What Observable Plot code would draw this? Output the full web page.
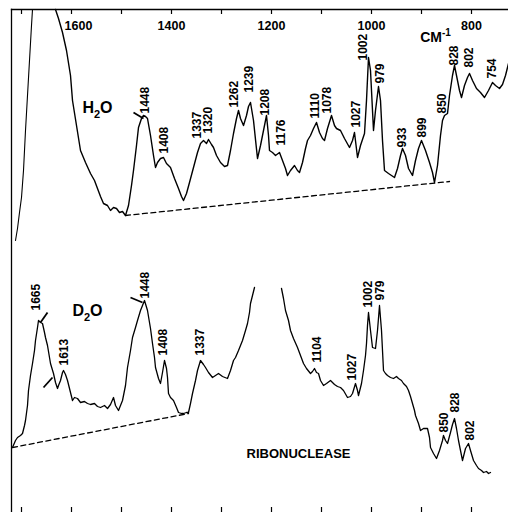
<!DOCTYPE html>
<html>
<head>
<meta charset="utf-8">
<script src="https://cdn.jsdelivr.net/npm/d3@7"></script>
<script src="https://cdn.jsdelivr.net/npm/@observablehq/plot@0.6"></script>
<style>
  html, body { margin: 0; padding: 0; background: #fff; }
  #chart svg { display: block; }
</style>
</head>
<body>
<div id="chart"></div>
<script>
// Raman spectra of ribonuclease: wavenumber (cm-1), intensity (arbitrary units)
const h2oWing = [[1712,272],[1708,284],[1704,300],[1700,315],[1696,342],[1692,382],[1688,417],[1684,452],[1680,487],[1678,503]];

const h2oSpectrum = [[1632,503],[1626,494],[1618,480],[1610,462],[1602,437],[1598,412],[1590,387],[1582,362],[1572,350],[1562,339],[1554,332],[1548,324],[1542,316],[1536,309],[1528,307],[1522,302],[1516,305],[1510,304],[1504,300],[1498,301],[1492,297],[1486,307],[1480,327],[1476,342],[1470,367],[1466,385],[1460,394],[1456,397],[1452,396],[1448,394],[1442,377],[1436,357],[1432,345],[1428,350],[1422,354],[1416,355],[1410,349],[1402,345],[1394,334],[1386,324],[1380,316],[1376,312],[1370,319],[1364,330],[1356,345],[1348,360],[1342,369],[1336,372],[1330,369],[1326,373],[1320,368],[1316,365],[1310,357],[1302,350],[1294,346],[1288,347],[1282,362],[1276,379],[1270,394],[1266,402],[1262,394],[1256,387],[1250,397],[1246,406],[1242,410],[1236,392],[1228,354],[1222,367],[1216,382],[1210,397],[1206,377],[1204,362],[1198,360],[1192,357],[1184,360],[1178,352],[1172,344],[1168,337],[1162,342],[1154,347],[1148,342],[1144,340],[1138,350],[1132,364],[1128,372],[1122,377],[1116,384],[1110,390],[1104,380],[1098,374],[1094,372],[1088,384],[1080,397],[1074,387],[1070,384],[1062,382],[1054,374],[1044,365],[1038,372],[1034,380],[1028,355],[1022,367],[1014,379],[1010,412],[1006,455],[1002,442],[998,402],[996,382],[992,402],[986,426],[982,412],[978,372],[974,342],[966,339],[960,337],[954,335],[948,344],[942,357],[938,364],[932,357],[926,344],[918,337],[912,352],[906,364],[900,372],[892,362],[884,350],[878,340],[874,330],[868,347],[862,377],[858,392],[854,397],[848,399],[844,417],[838,437],[834,447],[830,437],[824,422],[820,415],[814,427],[808,435],[804,439],[798,432],[790,424],[782,420],[774,415],[766,422],[758,430],[752,427],[744,424],[738,428],[732,437],[726,449]];

const d2oLeft = [[1718,65],[1712,72],[1708,75],[1702,77],[1698,79],[1694,87],[1692,92],[1688,107],[1686,122],[1682,137],[1678,149],[1674,162],[1672,172],[1668,185],[1666,192],[1662,190],[1658,189],[1654,180],[1652,175],[1648,167],[1642,149],[1636,139],[1632,130],[1628,124],[1626,127],[1622,132],[1618,140],[1616,142],[1612,138],[1608,132],[1602,120],[1598,112],[1594,115],[1588,114],[1582,110],[1574,111],[1568,109],[1562,108],[1554,109],[1548,106],[1542,105],[1534,107],[1528,104],[1522,108],[1516,115],[1512,107],[1506,102],[1502,107],[1498,112],[1492,127],[1488,145],[1482,162],[1478,175],[1472,185],[1468,192],[1462,202],[1458,207],[1454,212],[1448,202],[1442,184],[1438,169],[1434,155],[1432,145],[1426,134],[1422,129],[1418,140],[1414,152],[1410,144],[1408,135],[1406,119],[1402,115],[1396,112],[1390,105],[1386,100],[1380,99],[1376,99],[1370,100],[1366,100],[1362,109],[1358,119],[1352,132],[1348,142],[1342,152],[1336,148],[1332,145],[1326,140],[1318,135],[1312,137],[1306,139],[1298,136],[1288,134],[1282,142],[1276,152],[1272,155],[1266,162],[1258,172],[1252,182],[1248,189],[1244,200],[1242,209],[1238,217],[1234,225]];

const d2oRight = [[1180,224],[1176,214],[1172,202],[1166,192],[1162,182],[1156,174],[1148,165],[1142,157],[1136,149],[1130,144],[1122,139],[1118,141],[1114,144],[1110,140],[1106,139],[1102,132],[1096,127],[1090,129],[1082,132],[1074,128],[1068,126],[1062,125],[1056,122],[1048,115],[1042,116],[1038,119],[1032,129],[1028,122],[1026,117],[1020,129],[1016,142],[1012,157],[1010,169],[1008,187],[1006,200],[1002,182],[998,165],[992,164],[988,182],[984,207],[980,182],[976,142],[972,139],[968,137],[962,135],[956,134],[950,136],[946,134],[940,132],[936,129],[930,126],[926,122],[922,116],[918,109],[914,102],[912,97],[906,89],[902,82],[896,84],[888,84],[884,75],[882,65],[876,59],[870,54],[864,62],[858,72],[856,77],[852,72],[848,69],[842,80],[838,88],[834,94],[830,84],[826,72],[822,62],[818,52],[812,64],[806,69],[802,62],[796,52],[790,47],[786,44],[780,42],[776,40],[770,41],[766,39],[762,40]];

const h2oBaseline = [[1492,297],[844,331]];
const d2oBaseline = [[1718,65],[1366,99]];

// peak labels: [text, wavenumber, intensity at label foot]
const h2oPeakLabels = [["1448",1452,399],["1408",1414,359],["1337",1348,374],["1320",1326,379],["1262",1274,405],["1239",1244,420],["1208",1212,397],["1176",1180,367],["1110",1112,394],["1078",1088,399],["1027",1030,385],["1002",1016,452],["979",982,429],["933",938,365],["899",898,375],["850",858,399],["828",834,447],["802",804,445],["754",758,434]];
const d2oPeakLabels = [["1665",1670,202],["1613",1614,147],["1448",1452,214],["1408",1416,157],["1337",1342,157],["1104",1108,150],["1027",1038,132],["1002",1006,205],["979",982,212],["850",854,80],["828",832,100],["802",802,72]];

// hand-drawn pointer strokes: [wn1, I1, wn2, I2]
const pointerStrokes = [[1476,400,1456,394],[1482,215,1458,210],[1648,200,1662,190],[1656,125,1638,135]];

const axisTicks = [1700,1600,1500,1400,1300,1200,1100,1000,900,800];
const axisLabels = [1400,1200,1000,800];
const axisLabelShifted = [1600];

// [main text, sub/superscript, trailing text, wavenumber, intensity]
const sampleLabels = [["H","2","O",1548,405],["D","2","O",1568,202]];
const unitLabel = [["CM","-1","",872,475]];
const titleLabel = [["RIBONUCLEASE",1146,59]];

const W = 508, H = 512, mTop = 9, mLeft = 11;
const pairs = a => a.map(([wn, I]) => ({wn, I}));
const font = "'Liberation Sans', Arial, Helvetica, sans-serif";

const chart = Plot.plot({
  width: W,
  height: H,
  marginTop: mTop,
  marginLeft: mLeft,
  marginRight: 0,
  marginBottom: 0,
  x: {domain: [1720, 726], axis: null},
  y: {domain: [0, 503], axis: null},
  style: {fontFamily: font, background: "#fff", color: "#000"},
  marks: [
    Plot.frame({anchor: "top", stroke: "#000", strokeWidth: 1.3}),
    Plot.frame({anchor: "left", stroke: "#000", strokeWidth: 1.3}),
    Plot.tickX(axisTicks, {x: d => d, insetBottom: H - mTop - 5, stroke: "#000", strokeWidth: 1.2}),
    Plot.tickX(axisTicks, {x: d => d, insetTop: H - mTop - 5, stroke: "#000", strokeWidth: 1.2}),
    Plot.text(axisLabels, {x: d => d, text: d => String(d), frameAnchor: "top", dy: 12, fontSize: 12.5, fontWeight: "bold"}),
    Plot.text(axisLabelShifted, {x: d => d, text: d => String(d), frameAnchor: "top", dy: 12, dx: 7, fontSize: 12.5, fontWeight: "bold"}),
    Plot.line(pairs(h2oWing), {x: "wn", y: "I", stroke: "#000", strokeWidth: 1.1}),
    Plot.line(pairs(h2oSpectrum), {x: "wn", y: "I", stroke: "#000", strokeWidth: 1.4, strokeLinejoin: "round"}),
    Plot.line(pairs(d2oLeft), {x: "wn", y: "I", stroke: "#000", strokeWidth: 1.3, strokeLinejoin: "round"}),
    Plot.line(pairs(d2oRight), {x: "wn", y: "I", stroke: "#000", strokeWidth: 1.3, strokeLinejoin: "round"}),
    Plot.line(pairs(h2oBaseline), {x: "wn", y: "I", stroke: "#000", strokeWidth: 1.3, strokeDasharray: "5,3.5"}),
    Plot.line(pairs(d2oBaseline), {x: "wn", y: "I", stroke: "#000", strokeWidth: 1.3, strokeDasharray: "5,3.5"}),
    Plot.link(pointerStrokes, {x1: d => d[0], y1: d => d[1], x2: d => d[2], y2: d => d[3], stroke: "#000", strokeWidth: 1.8}),
    Plot.text(h2oPeakLabels.concat(d2oPeakLabels), {x: d => d[1], y: d => d[2], text: d => d[0], rotate: -90, textAnchor: "start", fontSize: 12, fontWeight: "bold"}),
    Plot.text(sampleLabels, {x: d => d[3], y: d => d[4], text: d => d[0] + d[1] + d[2], fontSize: 16, fontWeight: "bold", className: "sub-label"}),
    Plot.text(unitLabel, {x: d => d[3], y: d => d[4], text: d => d[0] + d[1], fontSize: 14, fontWeight: "bold", className: "sup-label"}),
    Plot.text(titleLabel, {x: d => d[1], y: d => d[2], text: d => d[0], fontSize: 13, fontWeight: "bold"})
  ]
});

// rebuild the chemical formula / unit labels with true sub- and superscripts
function scriptify(cls, rows, shift, size) {
  d3.select(chart).selectAll(`g.${cls} text`).each(function(_, i) {
    const r = rows[i];
    const t = d3.select(this);
    t.text(null);
    t.append("tspan").text(r[0]);
    t.append("tspan").attr("dy", shift).attr("font-size", size).text(r[1]);
    if (r[2]) t.append("tspan").attr("dy", -shift).text(r[2]);
  });
}
scriptify("sub-label", sampleLabels, 5, 11);
scriptify("sup-label", unitLabel, -6, 10);

document.getElementById("chart").appendChild(chart);
</script>
</body>
</html>
